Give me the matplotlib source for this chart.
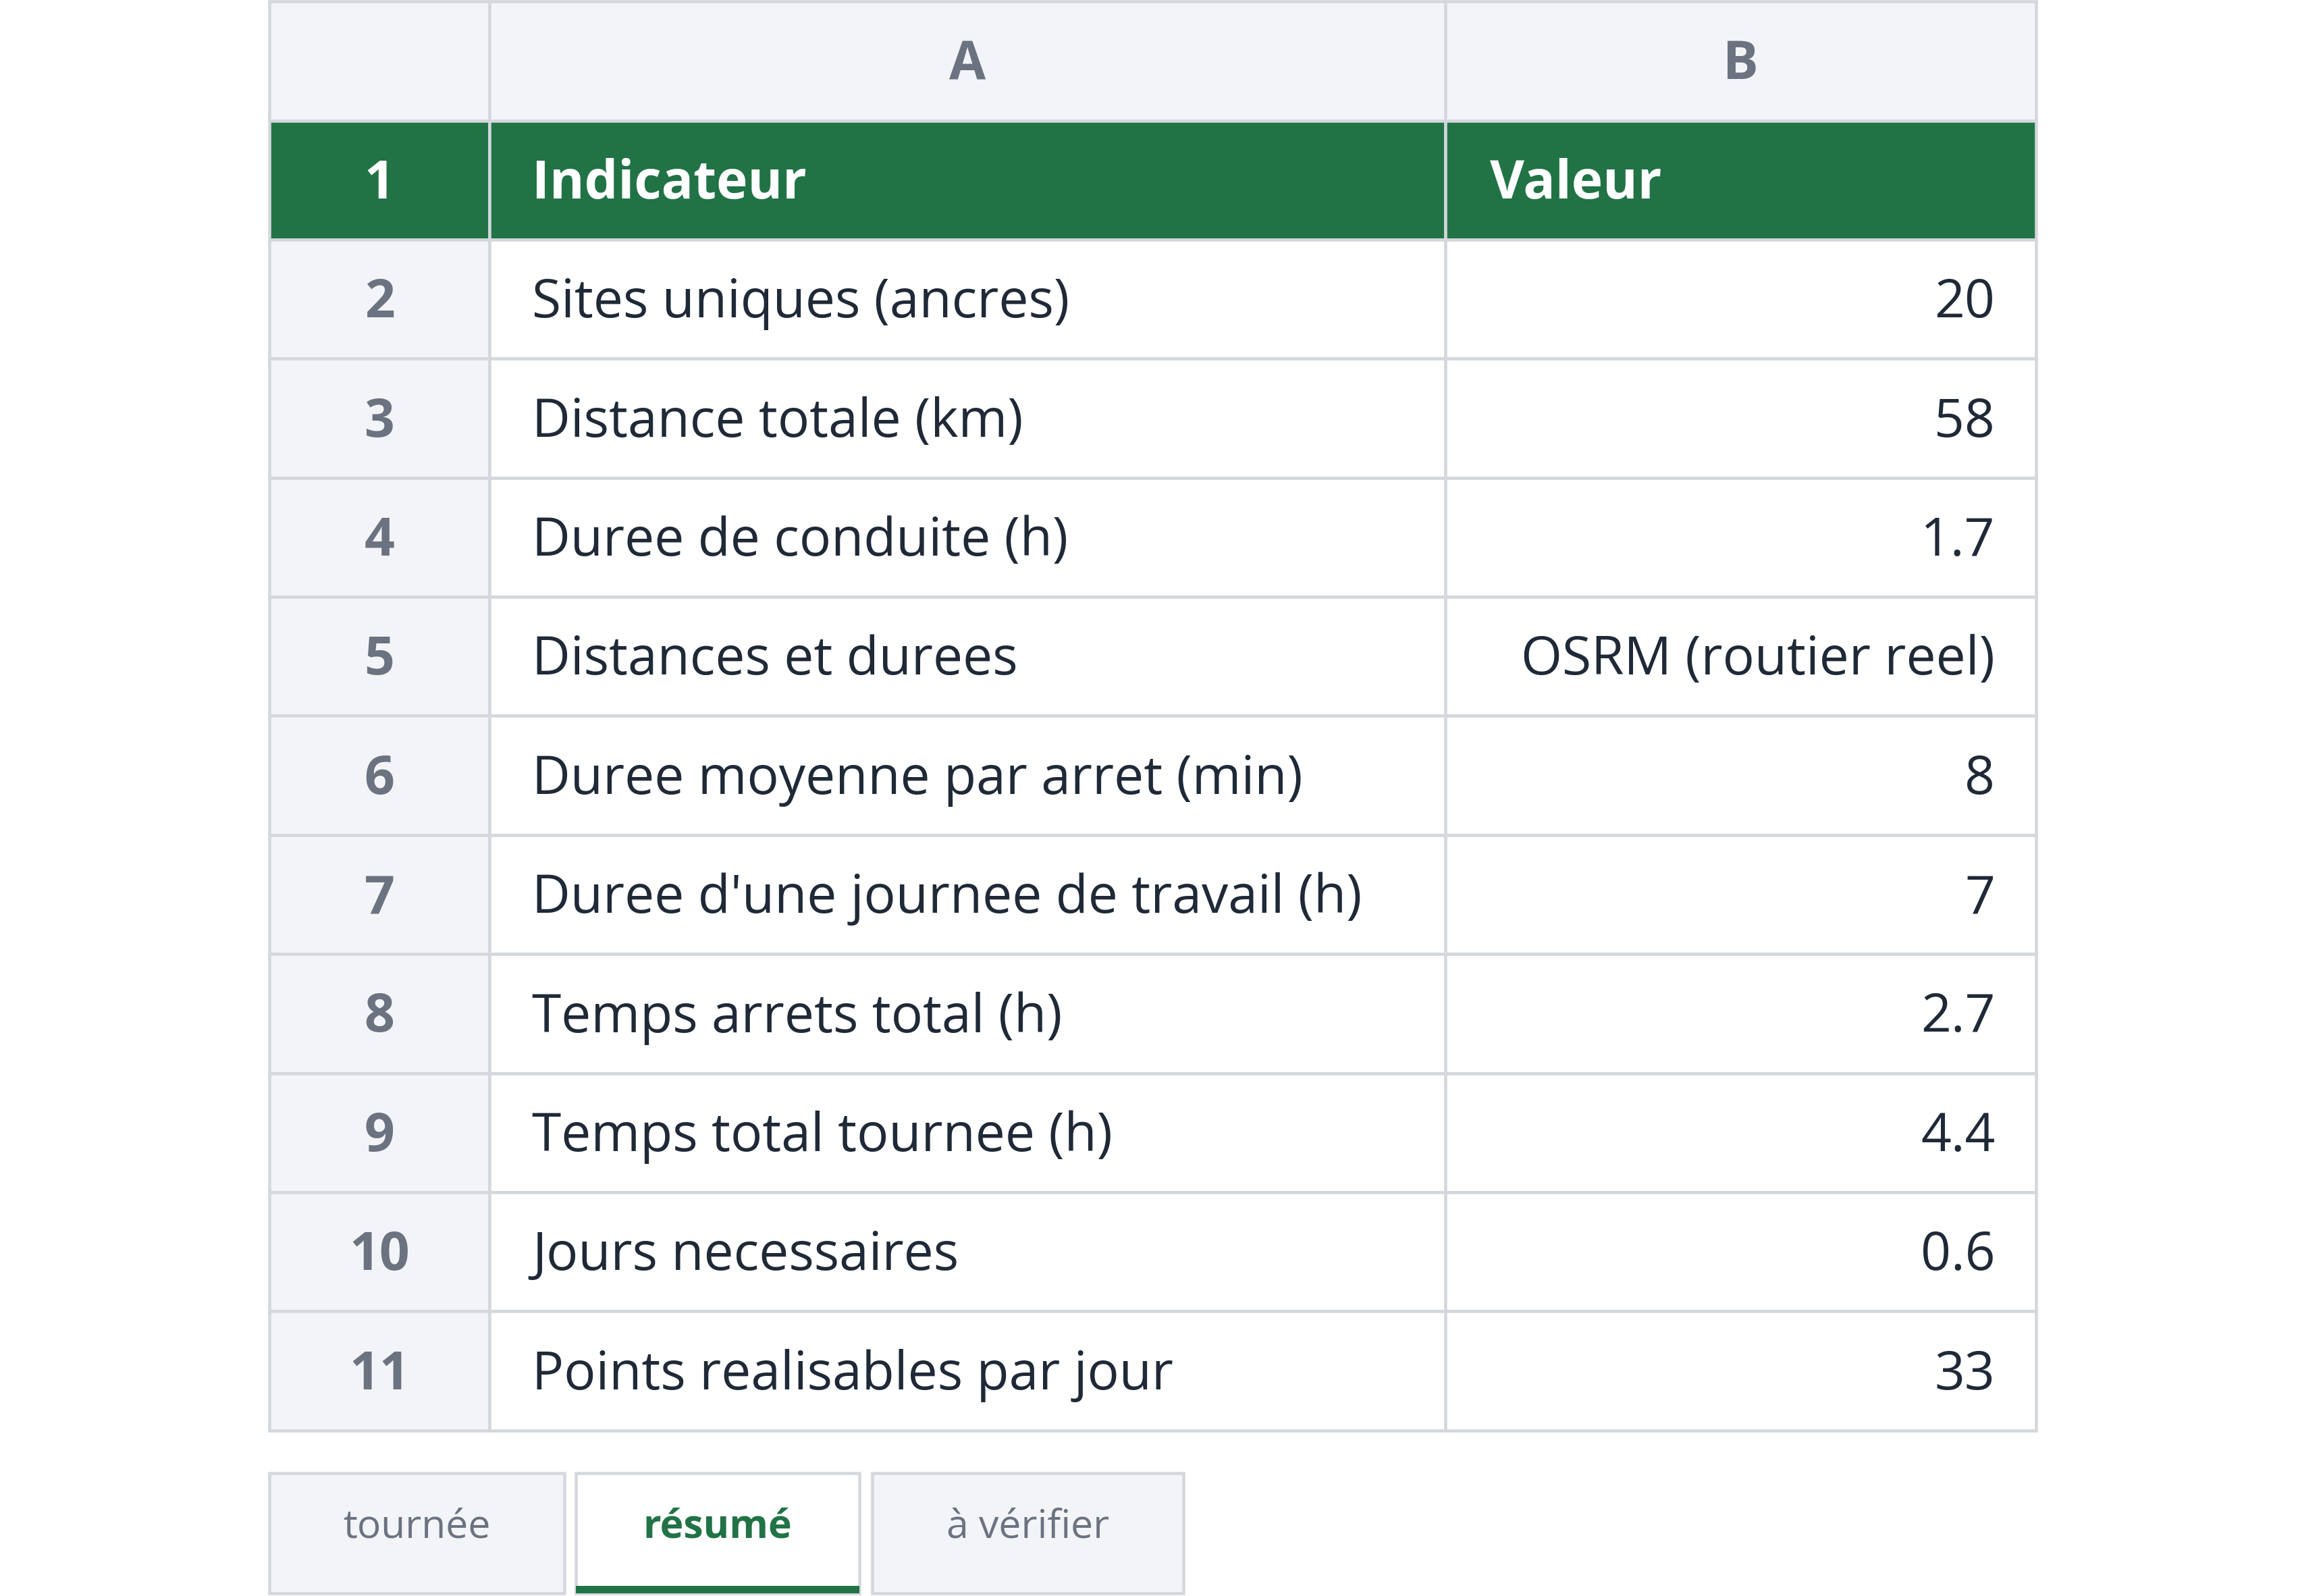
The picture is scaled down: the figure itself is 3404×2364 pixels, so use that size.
import matplotlib.pyplot as plt
from matplotlib.patches import Rectangle

col_letters = ["A", "B"]
header = ["Indicateur", "Valeur"]
indicators = ["Sites uniques (ancres)", "Distance totale (km)", "Duree de conduite (h)",
              "Distances et durees", "Duree moyenne par arret (min)",
              "Duree d'une journee de travail (h)", "Temps arrets total (h)",
              "Temps total tournee (h)", "Jours necessaires", "Points realisables par jour"]
values = ["20", "58", "1.7", "OSRM (routier reel)", "8", "7", "2.7", "4.4", "0.6", "33"]
tabs = ["tournée", "résumé", "à vérifier"]
active_tab = 1

W, H = 1560, 1089
S = 3405 / W  # display px -> output px
pt = 72 / 100 * S  # display px -> points

GREEN = "#217346"
GRID = "#d4d7dc"
HEAD_BG = "#f3f4f7"
GREY = "#6b7280"
TEXT = "#1f2937"

plt.rcParams['font.family'] = ['Open Sans', 'DejaVu Sans']
fig = plt.figure(figsize=(34.05, 23.64), dpi=100)
ax = fig.add_axes([0, 0, 1, 1])
ax.set_xlim(0, W)
ax.set_ylim(H, 0)
ax.axis("off")

x0, xa, xb, x1 = 183, 332, 981, 1382
ytop, ybot = 1, 976
nrows = 1 + 1 + len(indicators)
rh = (ybot - ytop) / nrows
fs = 36 * pt
dy = 3  # text baseline nudge

def cell(x, y, w, h, fc):
    ax.add_patch(Rectangle((x, y), w, h, facecolor=fc, edgecolor=GRID, linewidth=1.5 * S))

# column header row
cell(x0, ytop, xa - x0, rh, HEAD_BG)
for (l, r), letter in zip([(xa, xb), (xb, x1)], col_letters):
    cell(l, ytop, r - l, rh, HEAD_BG)
    ax.text((l + r) / 2, ytop + rh / 2 + dy, letter, ha="center", va="center",
            fontsize=fs, color=GREY, fontweight="bold")

rows = [header] + [[a, b] for a, b in zip(indicators, values)]
for i, (a, b) in enumerate(rows):
    y = ytop + rh * (i + 1)
    cy = y + rh / 2 + dy
    is_head = i == 0
    cell(x0, y, xa - x0, rh, GREEN if is_head else HEAD_BG)
    ax.text((x0 + xa) / 2, cy, str(i + 1), ha="center", va="center", fontsize=fs,
            color="white" if is_head else GREY, fontweight="bold")
    cell(xa, y, xb - xa, rh, GREEN if is_head else "white")
    cell(xb, y, x1 - xb, rh, GREEN if is_head else "white")
    if is_head:
        ax.text(xa + 29, cy, a, ha="left", va="center", fontsize=fs, color="white", fontweight="bold")
        ax.text(xb + 30, cy, b, ha="left", va="center", fontsize=fs, color="white", fontweight="bold")
    else:
        ax.text(xa + 29, cy, a, ha="left", va="center", fontsize=fs, color=TEXT)
        ax.text(x1 - 28, cy, b, ha="right", va="center", fontsize=fs, color=TEXT)

# sheet tabs
tab_x = [(183, 383), (391, 583), (592, 803)]
ty0, ty1 = 1005, 1087
for k, ((l, r), name) in enumerate(zip(tab_x, tabs)):
    active = k == active_tab
    ax.add_patch(Rectangle((l, ty0), r - l, ty1 - ty0, facecolor="white" if active else HEAD_BG,
                           edgecolor=GRID, linewidth=1.5 * S))
    if active:
        ax.add_patch(Rectangle((l, ty1 - 5), r - l, 5, facecolor=GREEN, edgecolor="none"))
    ax.text((l + r) / 2, (ty0 + ty1) / 2 - 4, name, ha="center", va="center", fontsize=27 * pt,
            color=GREEN if active else GREY, fontweight="bold" if active else "normal")

fig.savefig("out.png", dpi=100, facecolor="white")
